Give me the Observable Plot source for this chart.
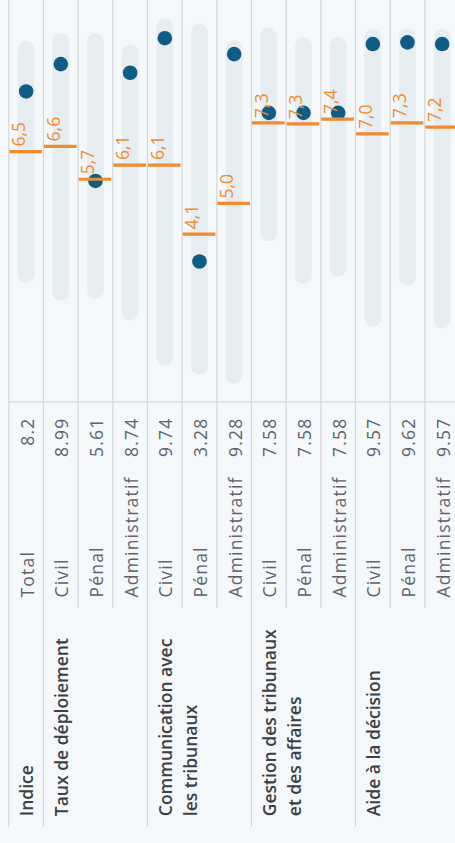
<!DOCTYPE html>
<html><head><meta charset="utf-8">
<script src="https://cdn.jsdelivr.net/npm/d3@7"></script>
<script src="https://cdn.jsdelivr.net/npm/@observablehq/plot@0.6"></script>
<style>
html,body{margin:0;padding:0;background:#f5f8fa;overflow:hidden;width:455px;height:843px;}
#wrap{position:absolute;left:0;top:0;width:843px;height:460px;transform-origin:0 0;transform:translateY(843px) rotate(-90deg);}
#wrap svg{background:transparent;overflow:visible;font-family:"Open Sans",sans-serif;}
#wrap g[fill="#5e6369"] text{letter-spacing:1.2px;}
</style></head><body><div id="wrap"></div>
<script>
// ---- data ----
const groupLabels = ["Indice", "Taux de déploiement", "Communication avec\nles tribunaux", "Gestion des tribunaux\net des affaires", "Aide à la décision"];
const rowGroup = [0, 1, 1, 1, 2, 2, 2, 3, 3, 3, 4, 4, 4];
const subcats = ["Total", "Civil", "Pénal", "Administratif", "Civil", "Pénal", "Administratif", "Civil", "Pénal", "Administratif", "Civil", "Pénal", "Administratif"];
const values = [8.2, 8.99, 5.61, 8.74, 9.74, 3.28, 9.28, 7.58, 7.58, 7.58, 9.57, 9.62, 9.57];
const averages = [6.46, 6.61, 5.66, 6.07, 6.07, 4.07, 4.96, 7.29, 7.26, 7.40, 6.97, 7.29, 7.17];
const rangeMin = [2.92, 2.40, 2.46, 1.83, 0.53, 0.26, 0.00, 4.12, 2.88, 3.10, 1.65, 2.85, 1.60];
const rangeMax = [9.43, 9.66, 9.66, 9.33, 10.09, 9.93, 9.46, 9.82, 9.54, 9.54, 9.78, 9.80, 9.77];

// ---- build ----
const rows = subcats.map((s, i) => ({id: i, group: rowGroup[i], sub: s, value: values[i], avg: averages[i], lo: rangeMin[i], hi: rangeMax[i]}));
const isFirst = (d, i) => i === 0 || rowGroup[i] !== rowGroup[i - 1];
const firsts = rows.filter(isFirst);
const inner = rows.filter((d, i) => !isFirst(d, i));
const groupRows = firsts.map(d => ({id: d.id, label: groupLabels[d.group]}));

const W = 843, H = 460;
const yRange = [8.3, 459];
const bw = (yRange[1] - yRange[0]) / rows.length;
const fmt = v => v.toFixed(1).replace(".", ",");
const orange = "#f28a30";
const lineCol = "#d5d8db";
const textGrey = "#5e6369";
const fs = 17.5;

const chart = Plot.plot({
  width: W, height: H,
  marginLeft: 0, marginRight: 0, marginTop: 0, marginBottom: 0,
  style: {background: "transparent", overflow: "visible"},
  x: {domain: [0, 10], range: [467.6, 813.3], axis: null},
  y: {type: "band", domain: rows.map(d => d.id), range: yRange, padding: 0, round: false, axis: null},
  marks: [
    // row separators
    Plot.ruleY(inner, {y: "id", dy: -bw / 2, insetLeft: 235, stroke: lineCol, strokeWidth: 1.3}),
    Plot.ruleY(firsts, {y: "id", dy: -bw / 2, insetLeft: 16, stroke: lineCol, strokeWidth: 1.3}),
    // divider between table and chart
    Plot.ruleX([0], {x: null, dx: 440.7 - W / 2, insetTop: yRange[0], stroke: lineCol, strokeWidth: 1.3}),
    // ranges
    Plot.ruleY(rows, {y: "id", x1: "lo", x2: "hi", stroke: "#e5edf1", strokeWidth: 16.7, strokeLinecap: "round"}),
    // values
    Plot.dot(rows, {x: "value", y: "id", r: 7.3, fill: "#0f5c85", stroke: null}),
    // averages
    Plot.tickX(rows, {x: "avg", y: "id", stroke: orange, strokeWidth: 3.2, insetTop: 1, insetBottom: 1}),
    Plot.text(rows, {x: "avg", y: "id", text: d => fmt(d.avg), textAnchor: "start", lineAnchor: "bottom", dx: 5, dy: -1, fill: orange, fontSize: fs}),
    // table text
    Plot.text(groupRows, {y: "id", text: "label", frameAnchor: "left", textAnchor: "start", dx: 26.3, lineAnchor: "top", lineHeight: 1.43, dy: -11, fontWeight: 600, fontSize: fs, fill: "#3b4046"}),
    Plot.text(rows, {y: "id", text: "sub", frameAnchor: "left", textAnchor: "start", dx: 245, dy: 2, fontSize: fs, fill: textGrey}),
    Plot.text(rows, {y: "id", text: d => String(d.value), frameAnchor: "left", textAnchor: "end", dx: 425, dy: 2, fontSize: fs, fill: textGrey})
  ]
});
document.getElementById("wrap").appendChild(chart);
</script>
</body></html>
